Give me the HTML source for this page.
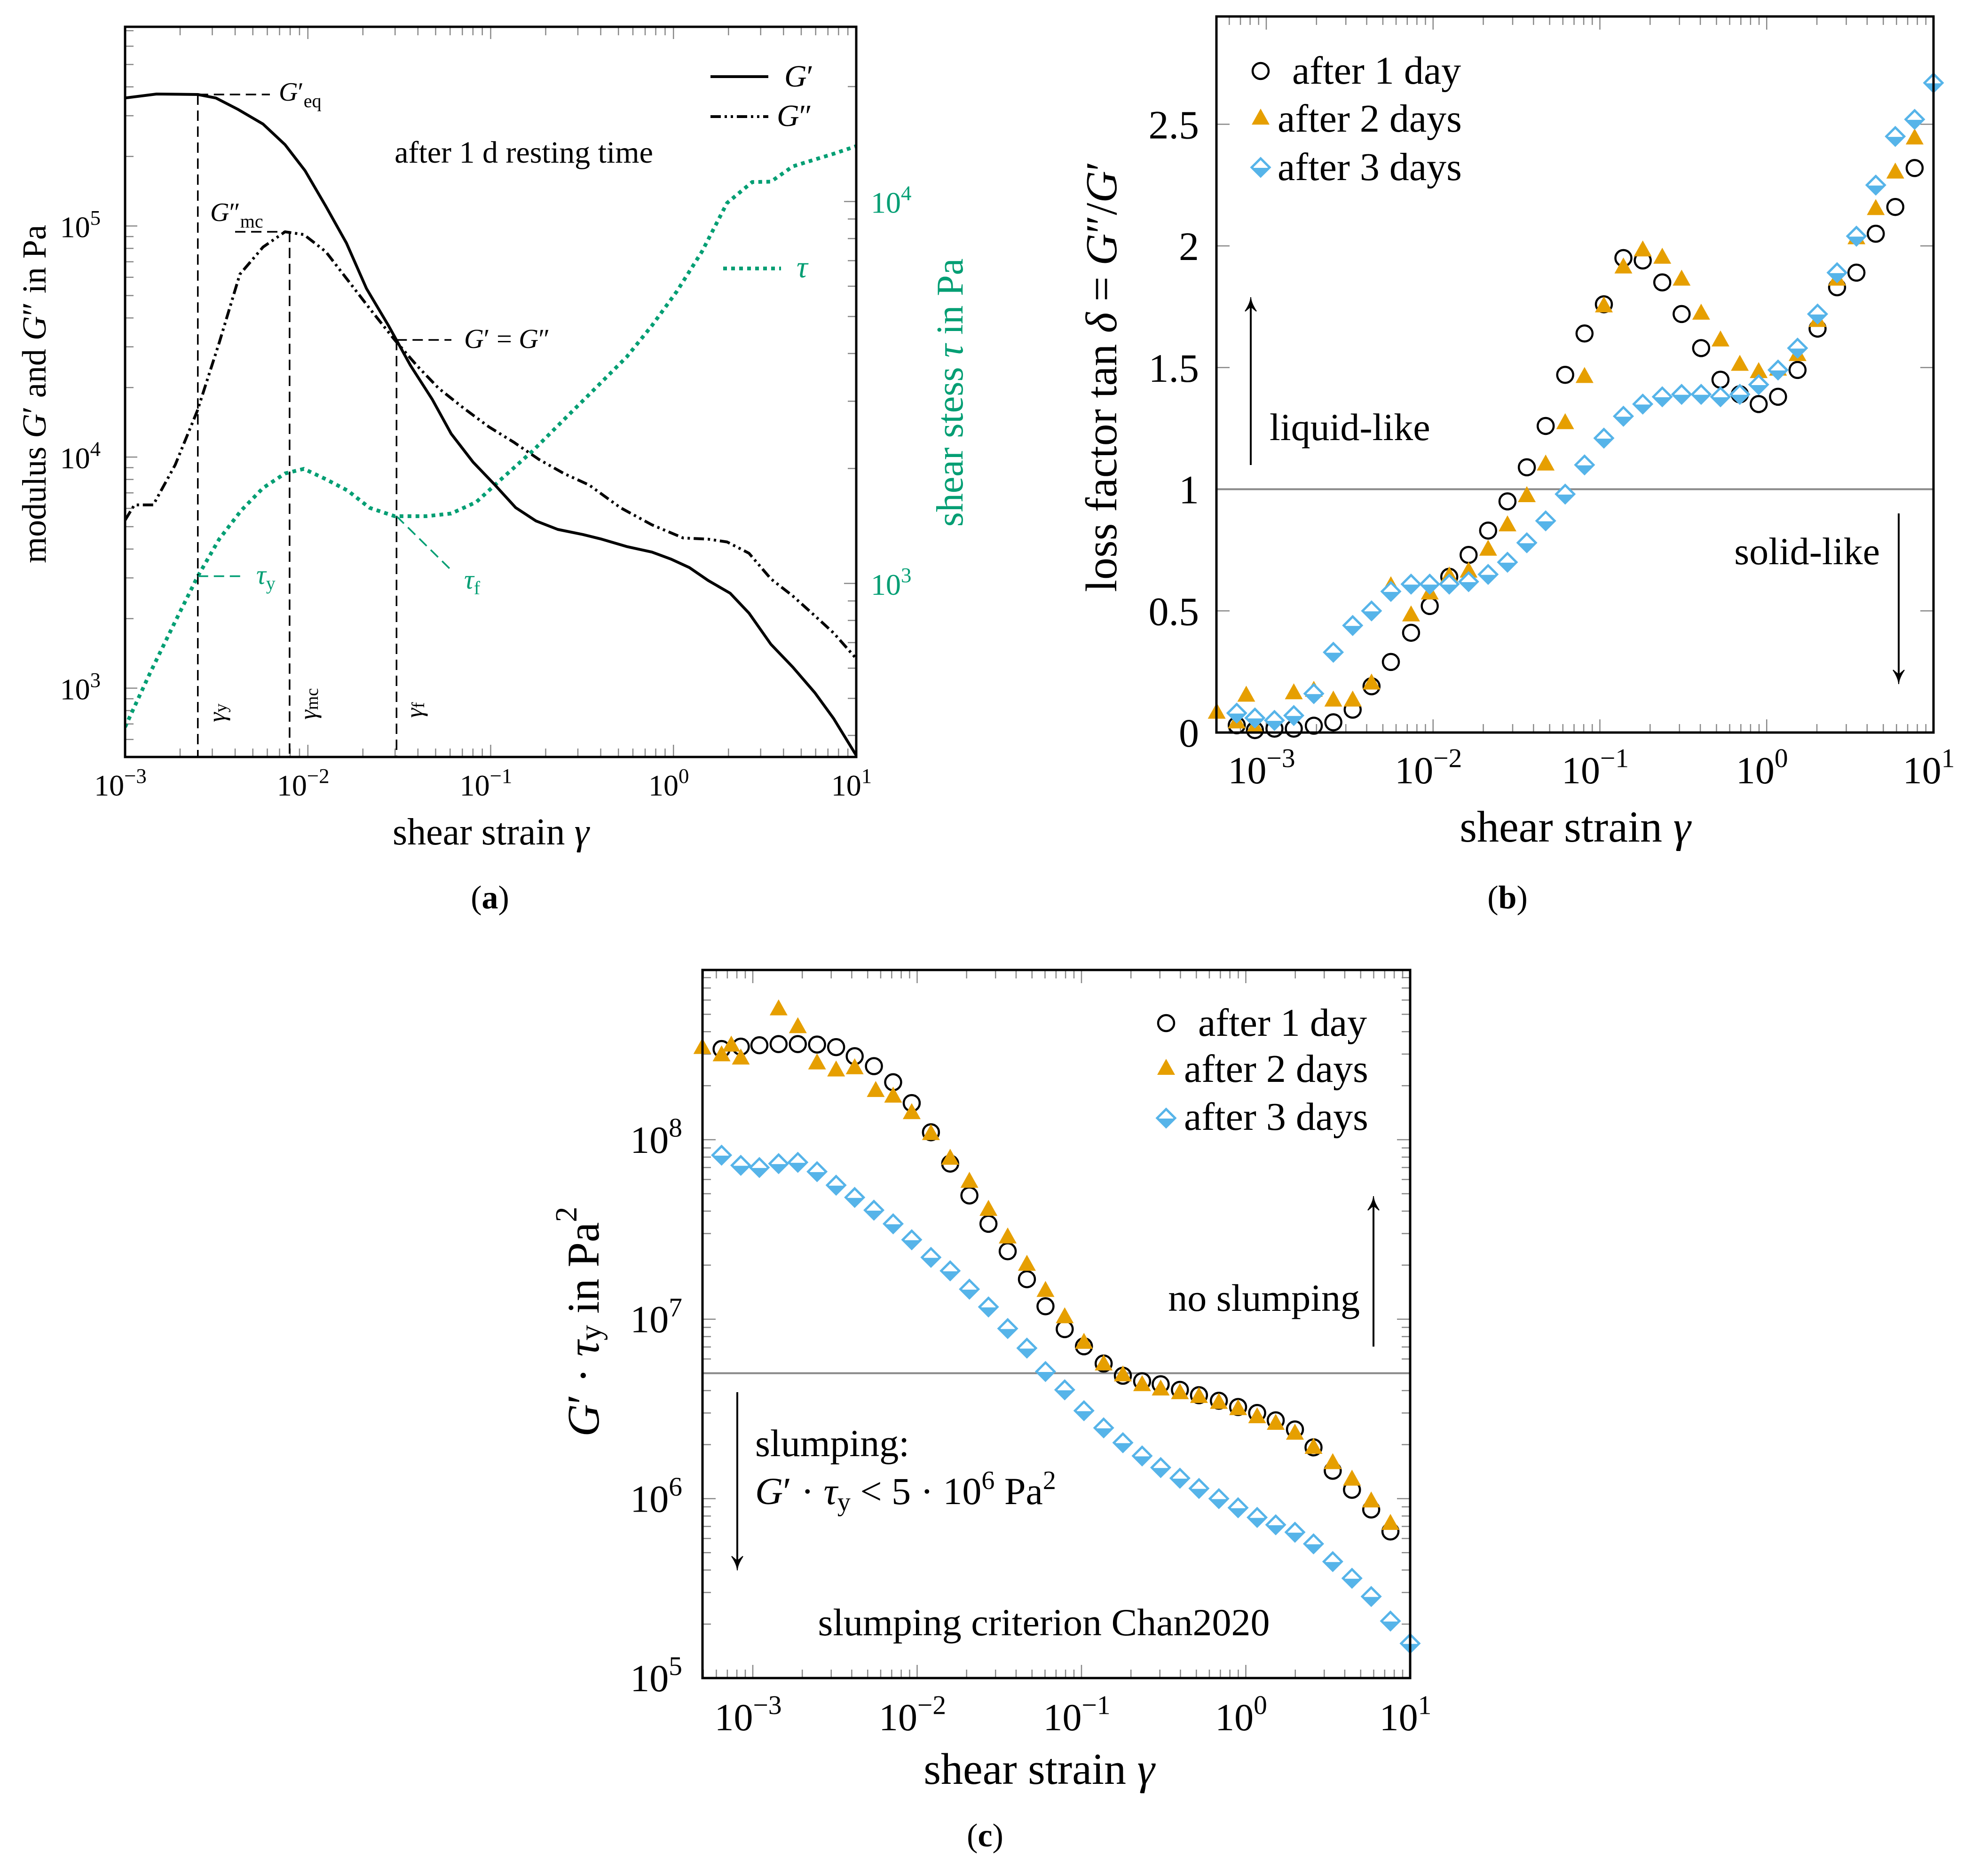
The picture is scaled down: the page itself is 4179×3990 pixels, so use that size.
<!DOCTYPE html>
<html><head><meta charset="utf-8"><title>Rheology figure</title>
<style>
html,body{margin:0;padding:0;background:#fff;}
svg{display:block;font-family:"Liberation Serif",serif;}
</style></head>
<body>
<svg id="fig" xmlns="http://www.w3.org/2000/svg" width="4179" height="3990" viewBox="0 0 4179 3990">
<defs>
<clipPath id="clipA"><rect x="266" y="57" width="1555" height="1553"/></clipPath>
</defs>
<rect x="0" y="0" width="4179" height="3990" fill="#fff"/>
<g id="pa"></g>
<g id="pb"></g>
<g id="pc"></g>

<!-- panel a static text -->
<text transform="rotate(-90 73 838)" x="73" y="838" text-anchor="middle" dominant-baseline="central" font-size="72">modulus <tspan font-style="italic">G</tspan>′ and <tspan font-style="italic">G</tspan>″ in Pa</text>
<text transform="rotate(-90 2021 835)" x="2021" y="835" text-anchor="middle" dominant-baseline="central" font-size="80" fill="#009E73">shear stess <tspan font-style="italic">τ</tspan> in Pa</text>
<text x="1044" y="1796" text-anchor="middle" font-size="80">shear strain <tspan font-style="italic">γ</tspan></text>
<text x="1042" y="1932" text-anchor="middle" font-size="70">(<tspan font-weight="bold">a</tspan>)</text>
<text x="1114" y="346" text-anchor="middle" font-size="66">after 1 d resting time</text>
<text x="1668" y="184" font-size="66" font-style="italic">G<tspan font-style="normal">′</tspan></text>
<text x="1652" y="268" font-size="66" font-style="italic">G<tspan font-style="normal">″</tspan></text>
<text x="1694" y="590" font-size="66" font-style="italic" fill="#009E73">τ</text>
<text x="593" y="214" font-size="56" font-style="italic">G<tspan font-style="normal">′</tspan><tspan font-style="normal" font-size="40" dy="14">eq</tspan></text>
<text x="447" y="470" font-size="56" font-style="italic">G<tspan font-style="normal">″</tspan><tspan font-style="normal" font-size="40" dy="14">mc</tspan></text>
<text x="987" y="740" font-size="58"><tspan font-style="italic">G</tspan>′ = <tspan font-style="italic">G</tspan>″</text>
<text x="545" y="1242" font-size="58" fill="#009E73" font-style="italic">τ<tspan font-style="normal" font-size="40" dy="12">y</tspan></text>
<text x="987" y="1252" font-size="58" fill="#009E73" font-style="italic">τ<tspan font-style="normal" font-size="40" dy="12">f</tspan></text>
<text transform="rotate(-90 462 1516)" x="462" y="1516" text-anchor="middle" dominant-baseline="central" font-size="52" font-style="italic">γ<tspan font-style="normal" font-size="38" dy="8">y</tspan></text>
<text transform="rotate(-90 656 1497)" x="656" y="1497" text-anchor="middle" dominant-baseline="central" font-size="52" font-style="italic">γ<tspan font-style="normal" font-size="38" dy="8">mc</tspan></text>
<text transform="rotate(-90 882 1510)" x="882" y="1510" text-anchor="middle" dominant-baseline="central" font-size="52" font-style="italic">γ<tspan font-style="normal" font-size="38" dy="8">f</tspan></text>

<!-- panel b static text -->
<text transform="rotate(-90 2343 801)" x="2343" y="801" text-anchor="middle" dominant-baseline="central" font-size="94">loss factor tan <tspan font-style="italic">δ</tspan> = <tspan font-style="italic">G</tspan>″/<tspan font-style="italic">G</tspan>′</text>
<text x="3350" y="1790" text-anchor="middle" font-size="94">shear strain <tspan font-style="italic">γ</tspan></text>
<text x="3206" y="1932" text-anchor="middle" font-size="70">(<tspan font-weight="bold">b</tspan>)</text>
<text x="2748" y="178" font-size="84">after 1 day</text>
<text x="2717" y="280" font-size="84">after 2 days</text>
<text x="2717" y="383" font-size="84">after 3 days</text>
<text x="2700" y="936" font-size="82">liquid-like</text>
<text x="3998" y="1200" text-anchor="end" font-size="82">solid-like</text>

<!-- panel c static text -->
<text transform="rotate(-90 1240 2811)" x="1240" y="2811" text-anchor="middle" dominant-baseline="central" font-size="96"><tspan font-style="italic">G</tspan>′ · <tspan font-style="italic">τ</tspan><tspan font-size="66" dy="16">y</tspan><tspan dy="-16"> in Pa</tspan><tspan font-size="66" dy="-36">2</tspan></text>
<text x="2210" y="3794" text-anchor="middle" font-size="94">shear strain <tspan font-style="italic">γ</tspan></text>
<text x="2095" y="3927" text-anchor="middle" font-size="70">(<tspan font-weight="bold">c</tspan>)</text>
<text x="2548" y="2203" font-size="84">after 1 day</text>
<text x="2518" y="2301" font-size="84">after 2 days</text>
<text x="2518" y="2403" font-size="84">after 3 days</text>
<text x="2892" y="2788" text-anchor="end" font-size="82">no slumping</text>
<text x="1606" y="3097" font-size="82">slumping:</text>
<text x="1606" y="3199" font-size="82"><tspan font-style="italic">G</tspan>′ · <tspan font-style="italic">τ</tspan><tspan font-size="56" dy="14">y</tspan><tspan dy="-14"> &lt; 5 · 10</tspan><tspan font-size="56" dy="-32">6</tspan><tspan dy="32"> Pa</tspan><tspan font-size="56" dy="-32">2</tspan></text>
<text x="2220" y="3478" text-anchor="middle" font-size="82">slumping criterion Chan2020</text>
</svg>
<script>
// ---------- Panel (a) data: log10 values ----------
const aStrainGp = [-3,-2.828,-2.602,-2.503,-2.383,-2.245,-2.125,-2.015,-1.902,-1.789,-1.679,-1.559,-1.439,-1.319,-1.216,-1.096,-0.976,-0.863,-0.753,-0.633,-0.496,-0.393,-0.256,-0.118,-0.015,0.087,0.19,0.31,0.413,0.533,0.653,0.774,0.876,1.0];
const logGPrime = [5.554,5.571,5.569,5.554,5.505,5.441,5.352,5.239,5.086,4.926,4.729,4.569,4.397,4.249,4.101,3.978,3.879,3.781,3.724,3.687,3.665,3.645,3.613,3.589,3.559,3.522,3.466,3.411,3.325,3.190,3.091,2.980,2.869,2.709];
const aStrainGpp = [-3,-2.949,-2.846,-2.726,-2.605,-2.485,-2.372,-2.245,-2.125,-2.022,-1.902,-1.782,-1.662,-1.525,-1.405,-1.285,-1.148,-1.010,-0.873,-0.736,-0.599,-0.461,-0.290,-0.118,0.053,0.190,0.293,0.413,0.533,0.653,0.774,0.876,1.0];
const logGDouble = [3.727,3.793,3.793,3.966,4.2,4.495,4.791,4.909,4.975,4.963,4.889,4.766,4.643,4.507,4.397,4.298,4.212,4.131,4.064,3.990,3.929,3.879,3.781,3.707,3.650,3.645,3.633,3.584,3.473,3.399,3.313,3.239,3.128];
const aStrainTau = [-3,-2.863,-2.726,-2.602,-2.485,-2.365,-2.245,-2.125,-2.022,-1.902,-1.782,-1.662,-1.525,-1.353,-1.216,-1.079,-0.942,-0.770,-0.599,-0.427,-0.256,-0.118,0.019,0.156,0.293,0.431,0.533,0.653,0.774,0.876,1.0];
const logTau = [2.624,2.766,2.900,3.019,3.116,3.191,3.250,3.288,3.300,3.273,3.243,3.198,3.176,3.176,3.183,3.213,3.273,3.347,3.429,3.511,3.593,3.675,3.765,3.869,3.996,4.051,4.052,4.092,4.110,4.125,4.145];
const aMarkers = [-2.602, -2.1, -1.515]; // log strain: gamma_y, gamma_mc, gamma_f
const aLevels = [5.569, 4.975, 4.507];   // log G'_eq, G''_mc, G'=G''
const aTauLevels = [3.019, 3.176];       // log tau_y, tau_f
const aXTicks = [-3,-2,-1,0,1];
const aYTicks = [3,4,5];
const aRTicks = [3,4];

// ---------- Panel (b) data ----------
const bStrain = [-3.297,-3.177,-3.068,-2.951,-2.835,-2.715,-2.598,-2.482,-2.369,-2.253,-2.132,-2.02,-1.903,-1.787,-1.670,-1.554,-1.438,-1.325,-1.208,-1.092,-0.976,-0.859,-0.743,-0.626,-0.510,-0.393,-0.277,-0.161,-0.048,0.068,0.185,0.305,0.422,0.538,0.654,0.771,0.887,1.0];
const bDay1 = [null,0.03,0.01,0.016,0.016,0.028,0.042,0.094,0.19,0.29,0.41,0.52,0.64,0.73,0.83,0.95,1.09,1.26,1.47,1.64,1.76,1.95,1.94,1.85,1.72,1.58,1.45,1.39,1.35,1.38,1.49,1.66,1.83,1.89,2.05,2.16,2.32,null];
const bDay3 = [null,0.08,0.06,0.05,0.07,0.16,0.33,0.44,0.50,0.58,0.61,0.61,0.61,0.62,0.65,0.70,0.78,0.87,0.98,1.10,1.21,1.30,1.35,1.38,1.39,1.39,1.38,1.39,1.43,1.49,1.58,1.72,1.89,2.04,2.25,2.45,2.52,2.67];
const bStrain2 = [-3.297,-3.177,-3.12,-3.068,-2.835,-2.715,-2.598,-2.482,-2.369,-2.253,-2.132,-2.02,-1.903,-1.787,-1.670,-1.554,-1.438,-1.325,-1.208,-1.092,-0.976,-0.859,-0.743,-0.626,-0.510,-0.393,-0.277,-0.161,-0.048,0.068,0.185,0.305,0.422,0.538,0.654,0.771,0.887];
const bDay2 = [0.08,0.04,0.15,0.02,0.16,0.17,0.13,0.13,0.2,0.6,0.48,0.57,0.64,0.66,0.75,0.85,0.97,1.10,1.27,1.46,1.75,1.91,1.98,1.95,1.86,1.72,1.61,1.51,1.48,1.49,1.55,1.69,1.86,2.03,2.15,2.30,2.44];
const bXTicks = [-3,-2,-1,0,1];
const bYTicks = [0,0.5,1,1.5,2,2.5];
const bYLabels = ['0','0.5','1','1.5','2','2.5'];

// ---------- Panel (c) data ----------
const cStrain = [-3.307,-3.19,-3.073,-2.96,-2.843,-2.726,-2.609,-2.493,-2.38,-2.263,-2.146,-2.033,-1.916,-1.799,-1.682,-1.566,-1.449,-1.332,-1.219,-1.102,-0.985,-0.865,-0.748,-0.631,-0.518,-0.401,-0.285,-0.164,-0.047,0.069,0.182,0.299,0.412,0.529,0.646,0.763,0.88,1.0];
const cDay1 = [null,3.2e8,3.3e8,3.36e8,3.41e8,3.41e8,3.39e8,3.28e8,2.92e8,2.57e8,2.09e8,1.6e8,1.1e8,7.36e7,4.89e7,3.4e7,2.39e7,1.67e7,1.18e7,8.8e6,7.06e6,5.66e6,4.84e6,4.51e6,4.34e6,4.04e6,3.77e6,3.51e6,3.24e6,3.0e6,2.73e6,2.43e6,1.93e6,1.43e6,1.12e6,8.7e5,6.56e5,null];
const cDay3 = [null,8.2e7,7.2e7,7.0e7,7.36e7,7.48e7,6.64e7,5.58e7,4.77e7,4.05e7,3.4e7,2.77e7,2.21e7,1.86e7,1.47e7,1.17e7,8.87e6,6.9e6,5.11e6,4.04e6,3.09e6,2.48e6,2.05e6,1.73e6,1.49e6,1.3e6,1.14e6,1.0e6,8.9e5,7.86e5,7.15e5,6.5e5,5.6e5,4.46e5,3.6e5,2.85e5,2.08e5,1.56e5];
const cStrain2 = [-3.307,-3.19,-3.131,-3.073,-2.843,-2.726,-2.609,-2.493,-2.38,-2.252,-2.146,-2.033,-1.916,-1.799,-1.682,-1.566,-1.449,-1.332,-1.219,-1.102,-0.985,-0.865,-0.748,-0.631,-0.518,-0.401,-0.285,-0.164,-0.047,0.069,0.182,0.299,0.412,0.529,0.646,0.763,0.88];
const cDay2 = [3.23e8,2.94e8,3.33e8,2.82e8,5.3e8,4.22e8,2.65e8,2.42e8,2.49e8,1.86e8,1.73e8,1.4e8,1.07e8,7.8e7,5.8e7,4.05e7,2.84e7,2.0e7,1.43e7,1.02e7,7.35e6,5.57e6,4.84e6,4.27e6,4.04e6,3.85e6,3.67e6,3.4e6,3.14e6,2.83e6,2.6e6,2.29e6,1.91e6,1.57e6,1.27e6,9.6e5,7.2e5];
const cThreshold = [5e6];
const cXTicks = [-3,-2,-1,0,1];
const cYTicks = [5,6,7,8];

const NS = 'http://www.w3.org/2000/svg';
function mk(tag, attrs, parent) {
  const e = document.createElementNS(NS, tag);
  for (const k in attrs) e.setAttribute(k, attrs[k]);
  parent.appendChild(e);
  return e;
}
const GREY = '#888', ORANGE = '#E69F00', BLUE = '#56B4E9', GREEN = '#009E73';

// ---------- axis functions ----------
const ax = l => 266 + (l + 3) * 388.75;
const ayL = l => 57 + (5.862 - l) * 491.5;
const ayR = l => 428.6 + (4 - l) * 812.3;
const bx = l => 2693 + (l + 3) * 354.75;
const by = v => 1558 - v * 517.5;
const cx = l => 1601 + (l + 3) * 349.5;
const cy = l => 2424 + (8 - l) * 381.7;

function pathFrom(xs, ys, fx, fy) {
  let d = '';
  for (let i = 0; i < xs.length; i++) d += (i ? 'L' : 'M') + fx(xs[i]).toFixed(1) + ' ' + fy(ys[i]).toFixed(1);
  return d;
}
function expLabel(parent, x, y, exp, fs, anchor, fill, name) {
  const t = mk('text', {x: x, y: y, 'font-size': fs, 'text-anchor': anchor, fill: fill || '#000'}, parent);
  
  
  t.appendChild(document.createTextNode('10'));
  const s = mk('tspan', {dy: -fs * 0.42, 'font-size': fs * 0.7}, t);
  s.textContent = (exp < 0 ? '\u2212' + (-exp) : '' + exp);
  return t;
}

// =================== PANEL A ===================
const pa = document.getElementById('pa');
for (let k = -3; k <= 1; k++) {
  for (let m = 1; m <= 9; m++) {
    const l = k + Math.log10(m);
    if (l > 1.0001) continue;
    const x = ax(l), len = m === 1 ? 26 : 18;
    const t1 = mk('line', {x1: x, y1: 1610, x2: x, y2: 1610 - len, stroke: GREY, 'stroke-width': 2.5}, pa);
    
    
    const t2 = mk('line', {x1: x, y1: 57, x2: x, y2: 57 + len, stroke: GREY, 'stroke-width': 2.5}, pa);
    
    
  }
}
for (let k = 2; k <= 5; k++) {
  for (let m = 1; m <= 9; m++) {
    const l = k + Math.log10(m);
    if (l < 2.702 || l > 5.862) continue;
    const y = ayL(l), len = m === 1 ? 26 : 18;
    const t = mk('line', {x1: 266, y1: y, x2: 266 + len, y2: y, stroke: GREY, 'stroke-width': 2.5}, pa);
    
    
  }
}
for (let k = 2; k <= 4; k++) {
  for (let m = 1; m <= 9; m++) {
    const l = k + Math.log10(m);
    if (l < 2.546 || l > 4.457) continue;
    const y = ayR(l), len = m === 1 ? 26 : 18;
    const t = mk('line', {x1: 1821, y1: y, x2: 1821 - len, y2: y, stroke: GREY, 'stroke-width': 2.5}, pa);
    
    
  }
}
aXTicks.forEach(l => expLabel(pa, ax(l) - 10, 1692, l, 64, 'middle', '#000', 'a-x-tick-label'));
aYTicks.forEach(l => expLabel(pa, 214, ayL(l) + 24, l, 64, 'end', '#000', 'a-y-tick-label'));
aRTicks.forEach(l => expLabel(pa, 1852, ayR(l) + 24, l, 64, 'start', GREEN, 'a-right-tick-label'));

const gA = mk('g', {'clip-path': 'url(#clipA)'}, pa);


const tauLine = mk('path', {d: pathFrom(aStrainTau, logTau, ax, ayR), fill: 'none', stroke: GREEN, 'stroke-width': 8, 'stroke-dasharray': '8 9'}, gA);


const gppLine = mk('path', {d: pathFrom(aStrainGpp, logGDouble, ax, ayL), fill: 'none', stroke: '#000', 'stroke-width': 6, 'stroke-dasharray': '22 8 5 8 5 8'}, gA);


const gpLine = mk('path', {d: pathFrom(aStrainGp, logGPrime, ax, ayL), fill: 'none', stroke: '#000', 'stroke-width': 6, 'stroke-linejoin': 'round'}, gA);



const dashA = {stroke: '#000', 'stroke-width': 3.5, 'stroke-dasharray': '22 12', fill: 'none'};
const vY = mk('line', Object.assign({x1: ax(aMarkers[0]), y1: ayL(aLevels[0]), x2: ax(aMarkers[0]), y2: 1610}, dashA), pa);


const vMc = mk('line', Object.assign({x1: ax(aMarkers[1]), y1: ayL(aLevels[1]), x2: ax(aMarkers[1]), y2: 1610}, dashA), pa);


const vF = mk('line', Object.assign({x1: ax(aMarkers[2]), y1: ayL(aLevels[2]), x2: ax(aMarkers[2]), y2: 1610}, dashA), pa);


const hEq = mk('line', Object.assign({x1: ax(aMarkers[0]), y1: ayL(aLevels[0]), x2: 574, y2: ayL(aLevels[0])}, dashA), pa);


const hMc = mk('line', Object.assign({x1: 500, y1: ayL(aLevels[1]), x2: ax(aMarkers[1]), y2: ayL(aLevels[1])}, dashA), pa);


const hCr = mk('line', Object.assign({x1: ax(aMarkers[2]), y1: ayL(aLevels[2]), x2: 960, y2: ayL(aLevels[2])}, dashA), pa);


const dashG = {stroke: GREEN, 'stroke-width': 3.5, 'stroke-dasharray': '22 12', fill: 'none'};
const hTy = mk('line', Object.assign({x1: ax(aMarkers[0]), y1: ayR(aTauLevels[0]), x2: 520, y2: ayR(aTauLevels[0])}, dashG), pa);


const hTf = mk('line', Object.assign({x1: ax(aMarkers[2]), y1: ayR(aTauLevels[1]), x2: 960, y2: ayR(aTauLevels[1]) + 115}, dashG), pa);



const lg1 = mk('line', {x1: 1511, y1: 163, x2: 1634, y2: 163, stroke: '#000', 'stroke-width': 6}, pa);


const lg2 = mk('line', {x1: 1511, y1: 248, x2: 1634, y2: 248, stroke: '#000', 'stroke-width': 6, 'stroke-dasharray': '22 8 5 8 5 8'}, pa);


const lg3 = mk('line', {x1: 1538, y1: 571, x2: 1661, y2: 571, stroke: GREEN, 'stroke-width': 8, 'stroke-dasharray': '8 9'}, pa);



const boxA = mk('rect', {x: 266, y: 57, width: 1555, height: 1553, fill: 'none', stroke: '#000', 'stroke-width': 5}, pa);



// =================== markers ===================
function circ(parent, x, y, name) {
  const c = mk('circle', {cx: x, cy: y, r: 17, fill: 'none', stroke: '#000', 'stroke-width': 4.5}, parent);
  
  
}
function tri(parent, x, y, name) {
  const t = mk('polygon', {points: `${x},${y - 22} ${x - 19},${y + 12} ${x + 19},${y + 12}`, fill: ORANGE}, parent);
  
  
}
function dia(parent, x, y, name) {
  const g = mk('g', {}, parent);
  
  
  mk('polygon', {points: `${x},${y - 19} ${x + 19},${y} ${x},${y + 19} ${x - 19},${y}`, fill: '#fff', stroke: BLUE, 'stroke-width': 5}, g);
  mk('polygon', {points: `${x - 17},${y + 1} ${x + 17},${y + 1} ${x},${y + 18}`, fill: BLUE}, g);
}

// =================== PANEL B ===================
const pb = document.getElementById('pb');
for (let k = -4; k <= 1; k++) {
  for (let m = 1; m <= 9; m++) {
    const l = k + Math.log10(m);
    if (l < -3.3 || l > 1.0001) continue;
    const x = bx(l), len = m === 1 ? 28 : 18;
    const t1 = mk('line', {x1: x, y1: 1558, x2: x, y2: 1558 - len, stroke: GREY, 'stroke-width': 2.5}, pb);
    
    
    const t2 = mk('line', {x1: x, y1: 35, x2: x, y2: 35 + len, stroke: GREY, 'stroke-width': 2.5}, pb);
    
    
  }
}
bYTicks.forEach((v, i) => {
  const y = by(v);
  const t1 = mk('line', {x1: 2587, y1: y, x2: 2615, y2: y, stroke: GREY, 'stroke-width': 2.5}, pb);
  
  
  const t2 = mk('line', {x1: 4112, y1: y, x2: 4084, y2: y, stroke: GREY, 'stroke-width': 2.5}, pb);
  
  
  const lb = mk('text', {x: 2550, y: y + 30, 'font-size': 86, 'text-anchor': 'end'}, pb);
  
  
  lb.textContent = bYLabels[i];
});
bXTicks.forEach(l => expLabel(pb, bx(l) - 10, 1666, l, 82, 'middle', '#000', 'b-x-tick-label'));
const refB = mk('line', {x1: 2587, y1: by(1), x2: 4112, y2: by(1), stroke: GREY, 'stroke-width': 4}, pb);


bStrain.forEach((l, i) => { if (bDay1[i] !== null) circ(pb, bx(l), by(bDay1[i]), 'b-day1-point'); });
bStrain2.forEach((l, i) => tri(pb, bx(l), by(bDay2[i]), 'b-day2-point'));
bStrain.forEach((l, i) => { if (bDay3[i] !== null) dia(pb, bx(l), by(bDay3[i]), 'b-day3-point'); });
circ(pb, 2681, 151, 'legend-b-day1-marker');
tri(pb, 2681, 253, 'legend-b-day2-marker');
dia(pb, 2681, 356, 'legend-b-day3-marker');
function arrow(parent, x, y1, y2, name) {
  const g = mk('g', {}, parent);
  
  
  const dir = y2 < y1 ? -1 : 1;
  mk('line', {x1: x, y1: y1, x2: x, y2: y2 - dir * 10, stroke: '#000', 'stroke-width': 4}, g);
  mk('path', {d: `M${x - 12},${y2 - dir * 30} Q${x},${y2 - dir * 12} ${x},${y2} Q${x},${y2 - dir * 12} ${x + 12},${y2 - dir * 30} L${x},${y2 - dir * 20} Z`, fill: '#000', stroke: '#000', 'stroke-width': 2}, g);
}
arrow(pb, 2660, 989, 632, 'liquid-like-arrow');
arrow(pb, 4038, 1092, 1455, 'solid-like-arrow');
const boxB = mk('rect', {x: 2587, y: 35, width: 1525, height: 1523, fill: 'none', stroke: '#000', 'stroke-width': 5}, pb);



// =================== PANEL C ===================
const pc = document.getElementById('pc');
for (let k = -4; k <= 1; k++) {
  for (let m = 1; m <= 9; m++) {
    const l = k + Math.log10(m);
    if (l < -3.307 || l > 1.0001) continue;
    const x = cx(l), len = m === 1 ? 28 : 18;
    const t1 = mk('line', {x1: x, y1: 3569, x2: x, y2: 3569 - len, stroke: GREY, 'stroke-width': 2.5}, pc);
    
    
    const t2 = mk('line', {x1: x, y1: 2063, x2: x, y2: 2063 + len, stroke: GREY, 'stroke-width': 2.5}, pc);
    
    
  }
}
for (let k = 5; k <= 8; k++) {
  for (let m = 1; m <= 9; m++) {
    const l = k + Math.log10(m);
    if (l > 8.944) continue;
    const y = cy(l), len = m === 1 ? 28 : 18;
    const t1 = mk('line', {x1: 1494, y1: y, x2: 1494 + len, y2: y, stroke: GREY, 'stroke-width': 2.5}, pc);
    
    
    const t2 = mk('line', {x1: 2999, y1: y, x2: 2999 - len, y2: y, stroke: GREY, 'stroke-width': 2.5}, pc);
    
    
  }
}
cXTicks.forEach(l => expLabel(pc, cx(l) - 10, 3680, l, 82, 'middle', '#000', 'c-x-tick-label'));
cYTicks.forEach(l => expLabel(pc, 1451, cy(l) + 28, l, 82, 'end', '#000', 'c-y-tick-label'));
const refC = mk('line', {x1: 1494, y1: cy(Math.log10(cThreshold[0])), x2: 2999, y2: cy(Math.log10(cThreshold[0])), stroke: GREY, 'stroke-width': 4}, pc);


cStrain.forEach((l, i) => { if (cDay1[i] !== null) circ(pc, cx(l), cy(Math.log10(cDay1[i])), 'c-day1-point'); });
cStrain2.forEach((l, i) => tri(pc, cx(l), cy(Math.log10(cDay2[i])), 'c-day2-point'));
cStrain.forEach((l, i) => { if (cDay3[i] !== null) dia(pc, cx(l), cy(Math.log10(cDay3[i])), 'c-day3-point'); });
circ(pc, 2480, 2176, 'legend-c-day1-marker');
tri(pc, 2480, 2274, 'legend-c-day2-marker');
dia(pc, 2480, 2378, 'legend-c-day3-marker');
arrow(pc, 2921, 2864, 2544, 'no-slumping-arrow');
arrow(pc, 1568, 2961, 3340, 'slumping-arrow');
const boxC = mk('rect', {x: 1494, y: 2063, width: 1505, height: 1506, fill: 'none', stroke: '#000', 'stroke-width': 5}, pc);


</script>
</body></html>
